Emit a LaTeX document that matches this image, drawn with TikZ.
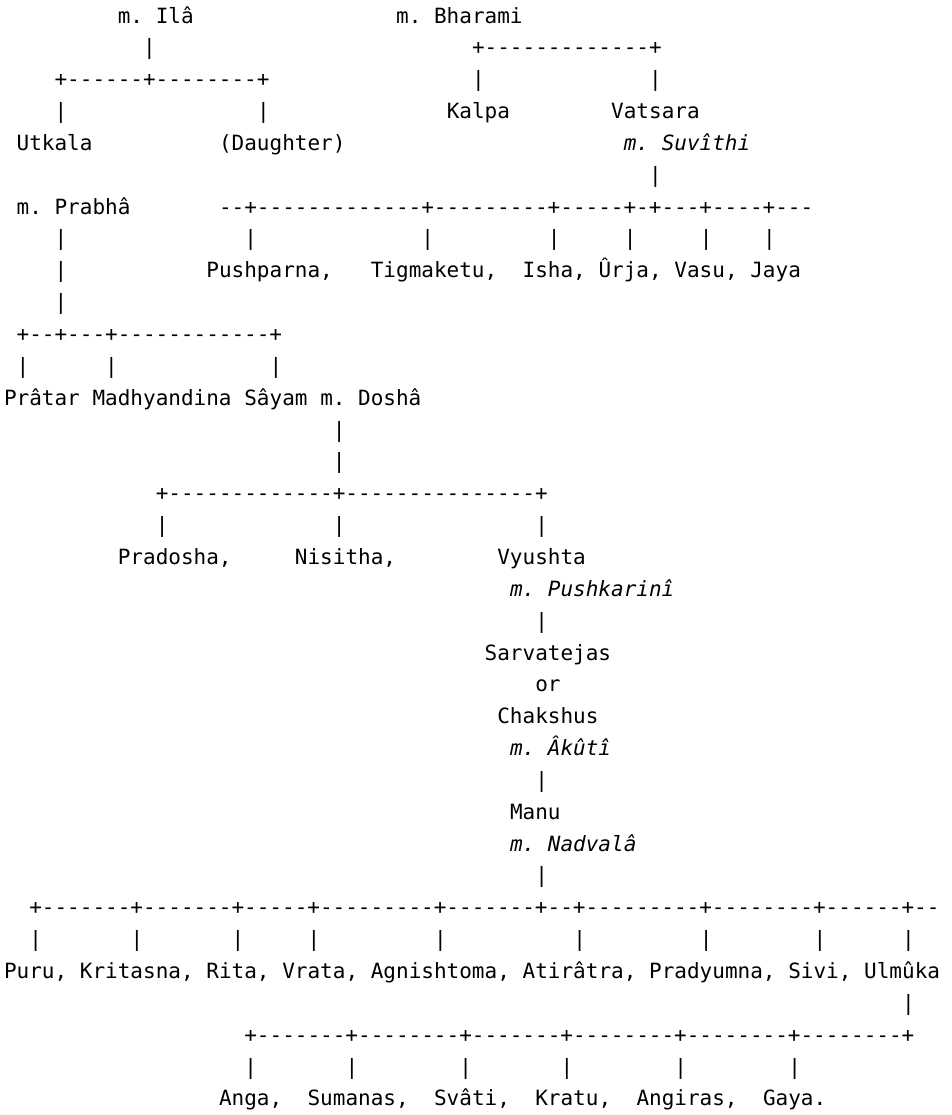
\documentclass[tikz,border=0pt]{standalone}
\usepackage{fontspec}
\setmonofont{DejaVu Sans Mono}
\usepackage{tikz}

\tikzset{
    txt/.style={anchor=base west, inner sep=0pt, outer sep=0pt,
        font=\fontsize{15.75}{18}\ttfamily},
    wife/.style={txt, font=\fontsize{15.75}{18}\ttfamily\itshape},
}

\begin{document}
\frenchspacing
\begin{tikzpicture}
    \useasboundingbox (0pt, 0pt) rectangle (714pt, -836.25pt);
    % one unit = one character cell, one line
    \begin{scope}[shift={(3pt, -17.25pt)}, x=9.4875pt, y=-23.8875pt]
        % Ila and Bharami
        \node[txt] (ila) at (9, 0) {m. Ilâ};
        \node[txt] (bharami) at (31, 0) {m. Bharami};
        \node[txt] (ila-bar) at (11, 1) {|};
        \node[txt] (bharami-fork) at (37, 1) {+-------------+};
        \node[txt] (ila-fork) at (4, 2) {+------+--------+};
        \node[txt] (kalpa-bar) at (37, 2) {|};
        \node[txt] (vatsara-bar) at (51, 2) {|};
        \node[txt] (utkala-bar) at (4, 3) {|};
        \node[txt] (daughter-bar) at (20, 3) {|};
        \node[txt] (kalpa) at (35, 3) {Kalpa};
        \node[txt] (vatsara) at (48, 3) {Vatsara};
        \node[txt] (utkala) at (1, 4) {Utkala};
        \node[txt] (daughter) at (17, 4) {(Daughter)};
        \node[wife] (suvithi) at (49, 4) {m. Suvîthi};
        \node[txt] (suvithi-bar) at (51, 5) {|};
        % sons of Vatsara
        \node[txt] (prabha) at (1, 6) {m. Prabhâ};
        \node[txt] (vatsara-fork) at (17, 6)
            {--+-------------+---------+-----+-+---+----+---};
        \foreach \c in {4, 19, 33, 43, 49, 55, 60}
            \node[txt] (bar7-\c) at (\c, 7) {|};
        \node[txt] (prabha-bar) at (4, 8) {|};
        \node[txt] (pushparna) at (16, 8) {Pushparna,};
        \node[txt] (tigmaketu) at (29, 8) {Tigmaketu,};
        \node[txt] (isha) at (41, 8) {Isha,};
        \node[txt] (urja) at (47, 8) {Ûrja,};
        \node[txt] (vasu) at (53, 8) {Vasu,};
        \node[txt] (jaya) at (59, 8) {Jaya};
        \node[txt] (prabha-bar2) at (4, 9) {|};
        % sons of Pushparna
        \node[txt] (prabha-fork) at (1, 10) {+--+---+------------+};
        \foreach \c in {1, 8, 21}
            \node[txt] (bar11-\c) at (\c, 11) {|};
        \node[txt] (pratar) at (0, 12) {Prâtar};
        \node[txt] (madhyandina) at (7, 12) {Madhyandina};
        \node[txt] (sayam) at (19, 12) {Sâyam};
        \node[txt] (dosha) at (25, 12) {m. Doshâ};
        \node[txt] (dosha-bar) at (26, 13) {|};
        \node[txt] (dosha-bar2) at (26, 14) {|};
        \node[txt] (dosha-fork) at (12, 15) {+-------------+---------------+};
        \foreach \c in {12, 26, 42}
            \node[txt] (bar16-\c) at (\c, 16) {|};
        \node[txt] (pradosha) at (9, 17) {Pradosha,};
        \node[txt] (nisitha) at (23, 17) {Nisitha,};
        \node[txt] (vyushta) at (39, 17) {Vyushta};
        % down to Manu
        \node[wife] (pushkarini) at (40, 18) {m. Pushkarinî};
        \node[txt] (pushkarini-bar) at (42, 19) {|};
        \node[txt] (sarvatejas) at (38, 20) {Sarvatejas};
        \node[txt] (or) at (42, 21) {or};
        \node[txt] (chakshus) at (39, 22) {Chakshus};
        \node[wife] (akuti) at (40, 23) {m. Âkûtî};
        \node[txt] (akuti-bar) at (42, 24) {|};
        \node[txt] (manu) at (40, 25) {Manu};
        \node[wife] (nadvala) at (40, 26) {m. Nadvalâ};
        \node[txt] (nadvala-bar) at (42, 27) {|};
        % sons of Manu
        \node[txt] (manu-fork) at (2, 28)
            {+-------+-------+-----+---------+-------+--+---------+--------+------+--};
        \foreach \c in {2, 10, 18, 24, 34, 45, 55, 64, 71}
            \node[txt] (bar29-\c) at (\c, 29) {|};
        \node[txt] (puru) at (0, 30) {Puru,};
        \node[txt] (kritasna) at (6, 30) {Kritasna,};
        \node[txt] (rita) at (16, 30) {Rita,};
        \node[txt] (vrata) at (22, 30) {Vrata,};
        \node[txt] (agnishtoma) at (29, 30) {Agnishtoma,};
        \node[txt] (atiratra) at (41, 30) {Atirâtra,};
        \node[txt] (pradyumna) at (51, 30) {Pradyumna,};
        \node[txt] (sivi) at (62, 30) {Sivi,};
        \node[txt] (ulmuka) at (68, 30) {Ulmûka};
        % sons of Ulmuka
        \node[txt] (ulmuka-bar) at (71, 31) {|};
        \node[txt] (ulmuka-fork) at (19, 32)
            {+-------+--------+-------+--------+--------+--------+};
        \foreach \c in {19, 27, 36, 44, 53, 62}
            \node[txt] (bar33-\c) at (\c, 33) {|};
        \node[txt] (anga) at (17, 34) {Anga,};
        \node[txt] (sumanas) at (24, 34) {Sumanas,};
        \node[txt] (svati) at (34, 34) {Svâti,};
        \node[txt] (kratu) at (42, 34) {Kratu,};
        \node[txt] (angiras) at (50, 34) {Angiras,};
        \node[txt] (gaya) at (60, 34) {Gaya.};
    \end{scope}
\end{tikzpicture}
\end{document}
